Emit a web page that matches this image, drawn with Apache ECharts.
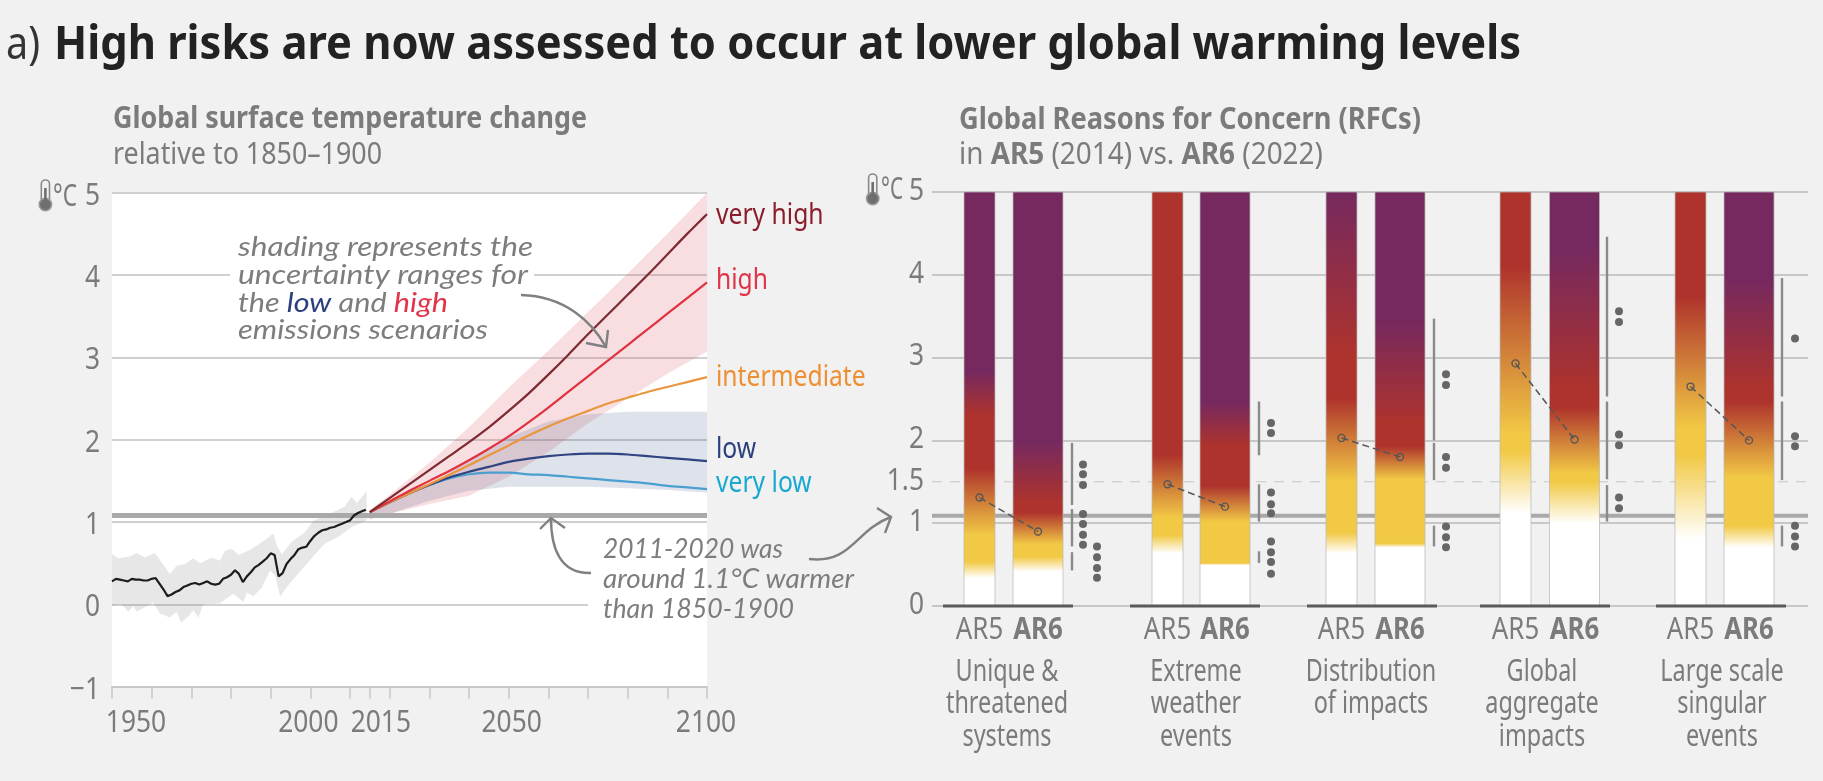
<!DOCTYPE html>
<html>
<head>
<meta charset="utf-8">
<title>High risks are now assessed to occur at lower global warming levels</title>
<script src="https://cdn.jsdelivr.net/npm/echarts@6/dist/echarts.min.js"></script>
<style>
  html, body { margin: 0; padding: 0; background: #f1f1f1; }
  #main { width: 1823px; height: 781px; }
</style>
</head>
<body>
<div id="main"></div>
<script>
// ---- global surface temperature (left panel), degC relative to 1850-1900
const histYears = [1950,1951,1952,1953,1954,1955,1956,1957,1958,1959,1960,1961,1962,1963,1964,1965,1966,1967,1968,1969,
  1970,1971,1972,1973,1974,1975,1976,1977,1978,1979,1980,1981,1982,1983,1984,1985,1986,1987,1988,1989,
  1990,1991,1992,1993,1994,1995,1996,1997,1998,1999,2000,2001,2002,2003,2004,2005,2006,2007,2008,2009,
  2010,2011,2012,2013,2014];
const histTemp = [.28,.31,.30,.29,.28,.31,.30,.30,.29,.29,.31,.32,.25,.18,.10,.12,.15,.17,.21,.23,
  .25,.26,.24,.26,.28,.25,.24,.25,.31,.33,.36,.415,.37,.27,.34,.39,.45,.48,.52,.56,
  .62,.60,.34,.38,.49,.55,.60,.67,.69,.70,.77,.83,.87,.90,.91,.93,.94,.96,.98,1.00,
  1.02,1.08,1.11,1.13,1.15];
const histHighYears = [1950,1951.6,1954.5,1956.2,1958.3,1960.8,1962.5,1964.6,1966.3,1968.4,1970.5,1972.2,1975.1,1977.2,1978.5,
  1980.2,1981.9,1984.4,1987.7,1990.7,1991.5,1992.8,1995.3,1998.7,2000.8,2003.7,2008.7,2010.4,2011.7,2014.2];
const histHigh = [.61,.56,.58,.625,.57,.625,.51,.37,.47,.49,.56,.50,.57,.53,.65,
  .675,.60,.65,.75,.86,.72,.61,.76,.88,1.02,1.07,1.19,1.31,1.23,1.37];
const histLowYears = [1950,1952.4,1954.1,1955.4,1956.2,1960.4,1962.1,1964.6,1966.3,1967.4,1969.2,1970.5,1971.8,1973,1977.2,1978.5,
  1980.6,1983.1,1984,1985.6,1987.7,1989.8,1991.1,1992.4,1994.9,1998.7,2001.2,2003.7,2007.1,2010.4,2014.2];
const histLow = [-.02,0,-.09,-.02,-.09,.02,-.11,-.16,-.09,-.22,-.15,-.07,-.16,0,.01,.06,
  .13,.03,.14,.10,.20,.41,.35,.10,.26,.47,.61,.74,.82,.94,1.02];

const scenarioYears = [2015,2020,2025,2030,2035,2040,2045,2050,2055,2060,2065,2070,2075,2080,2085,2090,2095,2100];
const veryHigh = [1.12,1.29,1.46,1.63,1.80,1.97,2.15,2.35,2.56,2.79,3.03,3.28,3.52,3.76,4.00,4.25,4.50,4.74];
const high = [1.12,1.25,1.38,1.50,1.62,1.75,1.89,2.04,2.21,2.39,2.58,2.77,2.96,3.15,3.34,3.53,3.72,3.91];
const intermediate = [1.12,1.24,1.35,1.46,1.57,1.69,1.81,1.93,2.05,2.16,2.26,2.35,2.44,2.51,2.58,2.64,2.70,2.76];
const low = [1.12,1.24,1.35,1.45,1.54,1.61,1.67,1.73,1.77,1.80,1.82,1.83,1.83,1.82,1.80,1.78,1.76,1.74];
const veryLow = [1.12,1.24,1.35,1.45,1.53,1.58,1.60,1.60,1.58,1.57,1.55,1.53,1.51,1.49,1.47,1.44,1.42,1.40];

const bandYears = [2015,2020,2030,2040,2050,2060,2070,2080,2090,2100];
const highBandHigh = [1.15,1.33,1.72,2.15,2.63,3.08,3.55,4.02,4.50,5.00];
const highBandLow = [1.03,1.10,1.22,1.32,1.55,1.85,2.20,2.50,2.80,3.07];
const lowBandHigh = [1.13,1.25,1.45,1.75,2.03,2.22,2.31,2.34,2.34,2.34];
const lowBandLow = [1.04,1.10,1.26,1.38,1.43,1.43,1.43,1.41,1.39,1.36];

const recentWarming = 1.08;
const yearTicks = [1950,1960,1970,1980,1990,2000,2010,2015,2020,2030,2040,2050,2060,2070,2080,2090,2100];
const yearLabels = [1950,2000,2015,2050,2100];
const tempLabels = [-1,0,1,2,3,4,5];

// ---- reasons for concern (right panel)
const rfcNames = ["Unique &\nthreatened\nsystems", "Extreme\nweather\nevents", "Distribution\nof impacts", "Global\naggregate\nimpacts", "Large scale\nsingular\nevents"];
const rfcTicks = [0,1,1.5,2,3,4,5];
// white until, yellow from, yellow to, red from, red to, purple from (degC)
const ar5Levels = [
  [.34,.54,.86,1.66,2.30,2.83],
  [.64,.86,1.07,1.82,5,null],
  [.64,.89,1.50,2.50,3.00,5],
  [1.13,1.87,2.08,4.10,5,null],
  [.81,1.82,2.14,3.73,5,null],
];
const ar6Levels = [
  [.42,.60,.75,1.13,1.25,1.98],
  [.50,.52,1.02,1.45,1.93,2.46],
  [.71,.76,1.53,1.93,2.20,3.47],
  [1.00,1.50,1.60,2.40,2.60,4.30],
  [.71,.97,1.55,2.46,2.60,3.95],
];
const ar5Transition = [1.31,1.47,2.03,2.93,2.65];
const ar6Transition = [.90,1.20,1.80,2.01,2.00];
const rangeSegments = [
  [[.43,.65],[.72,1.17],[1.22,1.97]],
  [[.52,.66],[1.02,1.47],[1.82,2.47]],
  [[.72,.97],[1.52,1.97],[2.00,3.47]],
  [[1.02,1.46],[1.53,2.47],[2.53,4.46]],
  [[.72,.97],[1.52,2.47],[2.53,3.96]],
];
const confidenceDots = [
  [1.71,1.59,1.46,1.11,.99,.86,.74],
  [2.21,2.09,1.37,1.23,1.12,.78,.65,.53,.39],
  [2.80,2.67,1.80,1.67,.96,.83,.71],
  [3.56,3.43,2.07,1.94,1.31,1.18],
  [3.23,2.05,1.93,.97,.84,.72],
];
const extraDots = [.72,.59,.46,.34];

// ---- layout of the right panel, x axis runs in page pixels
const ar5X = [979.5,1167.5,1341.5,1515.5,1690.5];
const ar6X = [1038,1225,1400,1574.5,1749];
const groupX = [1008,1195,1372,1545,1721];
const nameX = [1007,1196,1371,1542,1722];
const rangeX = [1072,1259,1434,1607,1782];
const dotX = [1083,1271,1446,1619,1795];
const extraDotX = 1097;
const yearLabelShift = [24,-2,11,3,-1];

const SANS = '"Noto Sans", sans-serif';
const GREY = "#7b7b7b";
const WHITE = "#ffffff", YELLOW = "#f2c945", RED = "#ae332c", PURPLE = "#76295f";

let measureCtx = document.createElement("canvas").getContext("2d");

// text squeezed to a given width, the original type is narrower than what is installed
let fitted = (o) => {
  let font = `${o.italic ? "italic " : ""}${o.weight || "normal"} ${o.size}px ${o.family || '"Noto Sans"'}`;
  measureCtx.font = font;
  let plain = o.text.replace(/\{\w+\|([^}]*)\}/g, "$1");
  let sx = o.width ? o.width / measureCtx.measureText(plain).width : 1;
  return {
    type: "text", x: o.x, y: o.y, z: 10, scaleX: sx,
    style: {
      text: o.text, fill: o.color || GREY, font: font,
      verticalAlign: "middle", align: "left", rich: o.rich,
    },
  };
};

// tick and series labels, placed through the axes and squeezed like the rest
let labels = (items, xIdx, yIdx, o) => ({
  type: "custom", xAxisIndex: xIdx, yAxisIndex: yIdx, silent: true, z: 6,
  data: items.map((d) => [d.x, d.y]),
  renderItem: (params, api) => {
    let d = items[params.dataIndex];
    let p = api.coord([api.value(0), api.value(1)]);
    return {
      type: "text",
      x: p[0] + (d.dx || 0) + (o.dx || 0),
      y: p[1] + (d.dy || 0) + (o.dy || 0),
      scaleX: o.squeeze || 0.85,
      style: {
        text: d.text,
        fill: d.color || GREY,
        font: `${d.weight || "normal"} ${o.size || 31}px ${SANS}`,
        align: o.align || "center",
        verticalAlign: o.valign || "middle",
        lineHeight: o.lineHeight,
      },
    };
  },
});

let polygonBand = (highYears, hi, lowYears, lo, color) => ({
  type: "custom", xAxisIndex: 0, yAxisIndex: 0, silent: true, z: 2,
  data: [0],
  renderItem: (params, api) => {
    let pts = highYears.map((y, i) => api.coord([y, hi[i]]));
    for (let i = lowYears.length - 1; i >= 0; i--) pts.push(api.coord([lowYears[i], lo[i]]));
    return { type: "polygon", shape: { points: pts }, style: { fill: color } };
  },
});

let scenario = (name, values, color) => ({
  name: name, type: "line", xAxisIndex: 0, yAxisIndex: 0, z: 5,
  showSymbol: false, silent: true, smooth: 0.3,
  data: scenarioYears.map((y, i) => [y, values[i]]),
  lineStyle: { color: color, width: 2.2 },
});

let levelStops = (lv) => {
  let at = (v) => (5 - v) / 5;
  let stops = [
    [lv[5], PURPLE], [lv[4], RED], [lv[3], RED], [lv[2], YELLOW], [lv[1], YELLOW], [lv[0], WHITE],
  ].filter((s) => s[0] !== null && s[0] <= 5);
  let list = stops.map((s) => ({ offset: at(s[0]), color: s[1] }));
  if (list[0].offset > 0) list.unshift({ offset: 0, color: list[0].color });
  list.push({ offset: 1, color: WHITE });
  return list;
};

let rfcBars = (xs, levels, width) => ({
  type: "custom", xAxisIndex: 1, yAxisIndex: 1, silent: true, z: 3,
  data: xs.map((x, i) => [x, i]),
  renderItem: (params, api) => {
    let i = api.value(1);
    let a = api.coord([api.value(0) - width / 2, 5]);
    let b = api.coord([api.value(0) + width / 2, 0]);
    return {
      type: "rect",
      shape: { x: a[0], y: a[1], width: b[0] - a[0], height: b[1] - a[1] },
      style: {
        fill: new echarts.graphic.LinearGradient(0, 0, 0, 1, levelStops(levels[i])),
        stroke: "rgba(185,185,185,0.75)", lineWidth: 1,
      },
    };
  },
});

let segments = (items, color, width, z) => ({
  type: "custom", xAxisIndex: 1, yAxisIndex: 1, silent: true, z: z,
  data: items,
  renderItem: (params, api) => {
    let a = api.coord([api.value(0), api.value(1)]);
    let b = api.coord([api.value(2), api.value(3)]);
    return {
      type: "line",
      shape: { x1: a[0], y1: a[1], x2: b[0], y2: b[1] },
      style: { stroke: color, lineWidth: width },
    };
  },
});

let thermometer = (x, y) => ({
  type: "group", x: x, y: y, z: 10,
  children: [
    { type: "rect", shape: { x: 2.6, y: 0, width: 8.2, height: 24, r: 4 }, style: { fill: "#f1f1f1", stroke: "#8a8a8a", lineWidth: 1.6 } },
    { type: "circle", shape: { cx: 6.7, cy: 24.5, r: 6.2 }, style: { fill: "#6f6f6f", stroke: "#9a9a9a", lineWidth: 1.6 } },
    { type: "rect", shape: { x: 5.4, y: 8, width: 2.6, height: 14 }, style: { fill: "#6f6f6f" } },
  ],
});

let arrow = (c, head) => [
  { type: "bezierCurve", z: 10, shape: c, style: { stroke: "#808080", lineWidth: 2.4, fill: "none" } },
  { type: "polyline", z: 10, shape: { points: head }, style: { stroke: "#808080", lineWidth: 2.4, fill: "none" } },
];

let handwrite = { family: "Lato", italic: true, size: 27, color: "#7d7d7d" };

let graphics = [
  // gaps in the gridlines behind the annotations
  { type: "rect", z: 1, shape: { x: 230, y: 271, width: 304, height: 6 }, style: { fill: "#fff" } },
  { type: "rect", z: 1, shape: { x: 588, y: 601, width: 119, height: 7 }, style: { fill: "#fff" } },

  fitted({ x: 6, y: 46, text: "a)", size: 46, width: 34, color: "#333" }),
  fitted({ x: 54, y: 46, text: "High risks are now assessed to occur at lower global warming levels", size: 46, weight: "bold", width: 1467, color: "#222" }),

  fitted({ x: 113, y: 119, text: "Global surface temperature change", size: 31, weight: "bold", width: 474 }),
  fitted({ x: 113, y: 155, text: "relative to 1850–1900", size: 31, width: 269 }),
  fitted({ x: 959, y: 120, text: "Global Reasons for Concern (RFCs)", size: 31, weight: "bold", width: 462 }),
  fitted({
    x: 959, y: 155, text: "in {b|AR5} (2014) vs. {b|AR6} (2022)", size: 31, width: 359,
    rich: { b: { font: 'bold 31px "Noto Sans"', fill: GREY } },
  }),

  thermometer(38.7, 180),
  fitted({ x: 53, y: 197, text: "°C", size: 31, width: 24 }),
  thermometer(866, 174),
  fitted({ x: 881, y: 190, text: "°C", size: 31, width: 22 }),

  fitted({ ...handwrite, x: 238, y: 247, text: "shading represents the", width: 295 }),
  fitted({ ...handwrite, x: 238, y: 275, text: "uncertainty ranges for", width: 290 }),
  fitted({
    ...handwrite, x: 238, y: 303, text: "the {l|low} and {h|high}", width: 210,
    rich: {
      l: { font: 'italic 27px Lato', fill: "#2b3f7e" },
      h: { font: 'italic 27px Lato', fill: "#e0344a" },
    },
  }),
  fitted({ ...handwrite, x: 238, y: 330, text: "emissions scenarios", width: 250 }),

  fitted({ ...handwrite, x: 603, y: 549, text: "2011-2020 was", width: 180 }),
  fitted({ ...handwrite, x: 603, y: 579, text: "around 1.1°C warmer", width: 251 }),
  fitted({ ...handwrite, x: 603, y: 609, text: "than 1850-1900", width: 191 }),

  ...arrow({ x1: 521, y1: 295, cpx1: 565, cpy1: 296, cpx2: 592, cpy2: 322, x2: 606, y2: 347 }, [[608, 330], [606, 347], [586, 343]]),
  ...arrow({ x1: 591, y1: 573, cpx1: 560, cpy1: 574, cpx2: 551, cpy2: 548, x2: 551, y2: 518 }, [[540, 529], [551, 518], [565, 528]]),
  ...arrow({ x1: 809, y1: 559, cpx1: 852, cpy1: 564, cpx2: 855, cpy2: 530, x2: 891, y2: 517 }, [[877, 508], [891, 517], [885, 533]]),
];

let option = {
  backgroundColor: "#f1f1f1",
  animation: false,
  grid: [
    { left: 112, top: 192.7, width: 595, height: 494, show: true, backgroundColor: "#fff", borderWidth: 0 },
    { left: 932, top: 192, width: 876, height: 414, borderWidth: 0 },
  ],
  xAxis: [
    {
      type: "value", gridIndex: 0, min: 1950, max: 2100, splitLine: { show: false },
      axisLine: { show: true, onZero: false, lineStyle: { color: "#c8c8c8", width: 2 } },
      axisTick: { show: true, length: 12, customValues: yearTicks, lineStyle: { color: "#c8c8c8", width: 1.5 } },
      axisLabel: { show: false },
    },
    {
      type: "value", gridIndex: 1, min: 932, max: 1808, splitLine: { show: false },
      axisLine: { show: false, onZero: false }, axisTick: { show: false },
      axisLabel: { show: false },
    },
  ],
  yAxis: [
    {
      type: "value", gridIndex: 0, min: -1, max: 5, interval: 1,
      axisLine: { show: false }, axisTick: { show: false },
      splitLine: { lineStyle: { color: "#d0d0d0", width: 2 } },
      axisLabel: { show: false },
    },
    {
      type: "value", gridIndex: 1, min: 0, max: 5, interval: 1,
      axisLine: { show: false }, axisTick: { show: false },
      splitLine: { lineStyle: { color: "#b8b8b8", width: 1.5 } },
      axisLabel: { show: false },
    },
  ],
  series: [
    polygonBand(histHighYears, histHigh, histLowYears, histLow, "rgba(120,120,120,0.18)"),
    polygonBand(bandYears, highBandHigh, bandYears, highBandLow, "rgba(218,90,105,0.2)"),
    polygonBand(bandYears, lowBandHigh, bandYears, lowBandLow, "rgba(50,75,125,0.16)"),
    {
      name: "2011-2020", type: "line", xAxisIndex: 0, yAxisIndex: 0, z: 3, showSymbol: false, silent: true,
      data: [[1950, recentWarming], [2100, recentWarming]],
      lineStyle: { color: "#a9a9a9", width: 5 },
    },
    {
      name: "observed", type: "line", xAxisIndex: 0, yAxisIndex: 0, z: 5, showSymbol: false, silent: true,
      data: histYears.map((y, i) => [y, histTemp[i]]),
      lineStyle: { color: "#1c1c1c", width: 2.2 },
    },
    scenario("very low", veryLow, "#4a9fd0"),
    scenario("low", low, "#2f4480"),
    scenario("intermediate", intermediate, "#e9963f"),
    scenario("high", high, "#e0323f"),
    scenario("very high", veryHigh, "#7d2a30"),

    labels(tempLabels.map((v) => ({ x: 1950, y: v, text: String(v).replace("-", "−") })), 0, 0, { align: "right", dx: -12, dy: 3 }),
    labels(yearLabels.map((v, i) => ({ x: v, y: -1, text: String(v), dx: yearLabelShift[i] })), 0, 0, { dy: 36 }),
    labels([
      { y: veryHigh[17], text: "very high", color: "#8b1d2b", dy: 2 },
      { y: high[17], text: "high", color: "#e0344a", dy: -2 },
      { y: intermediate[17], text: "intermediate", color: "#ee8f34", dy: 1 },
      { y: low[17], text: "low", color: "#2b3f7e", dy: -11 },
      { y: veryLow[17], text: "very low", color: "#18a8d0", dy: -5 },
    ].map((d) => ({ ...d, x: 2100 })), 0, 0, { align: "left", dx: 9, size: 29 }),

    // right panel
    {
      name: "2011-2020", type: "line", xAxisIndex: 1, yAxisIndex: 1, z: 2, showSymbol: false, silent: true,
      data: [[932, 1.09], [1808, 1.09]],
      lineStyle: { color: "#a9a9a9", width: 4 },
    },
    {
      name: "1.5", type: "line", xAxisIndex: 1, yAxisIndex: 1, z: 2, showSymbol: false, silent: true,
      data: [[932, 1.5], [1808, 1.5]],
      lineStyle: { color: "#c6c6c6", width: 1, type: [10, 8] },
    },
    rfcBars(ar5X, ar5Levels, 31),
    rfcBars(ar6X, ar6Levels, 50),
    segments(groupX.map((x) => [x - 65, 0, x + 65, 0]), "#5a5a5a", 3, 4),
    segments(rangeSegments.flatMap((r, i) => r.map((s) => [rangeX[i], s[0], rangeX[i], s[1]])), "#8a8a8a", 2.4, 4),
    ...ar5X.map((x, i) => ({
      type: "line", xAxisIndex: 1, yAxisIndex: 1, z: 5, silent: true,
      symbol: "circle", symbolSize: 7,
      data: [[x, ar5Transition[i]], [ar6X[i], ar6Transition[i]]],
      itemStyle: { color: "transparent", borderColor: "#565656", borderWidth: 1.4 },
      lineStyle: { color: "#565656", width: 1.5, type: [7, 4] },
    })),
    {
      name: "confidence", type: "scatter", xAxisIndex: 1, yAxisIndex: 1, z: 5, silent: true,
      symbolSize: 8,
      data: [...confidenceDots.flatMap((d, i) => d.map((v) => [dotX[i], v])), ...extraDots.map((v) => [extraDotX, v])],
      itemStyle: { color: "#666", opacity: 1 },
    },

    labels(rfcTicks.map((v) => ({ x: 932, y: v, text: String(v) })), 1, 1, { align: "right", dx: -8, dy: -1 }),
    labels([
      ...ar5X.map((x) => ({ x: x, y: 0, text: "AR5" })),
      ...ar6X.map((x) => ({ x: x, y: 0, text: "AR6", weight: "bold" })),
    ], 1, 1, { dy: 24, size: 30, squeeze: 0.86 }),
    labels(nameX.map((x, i) => ({ x: x, y: 0, text: rfcNames[i] })), 1, 1, { dy: 50, size: 30, valign: "top", lineHeight: 32.5, squeeze: 0.78 }),
  ],
  graphic: graphics,
};

let myChart = echarts.init(document.getElementById("main"));
myChart.setOption(option);
</script>
</body>
</html>
